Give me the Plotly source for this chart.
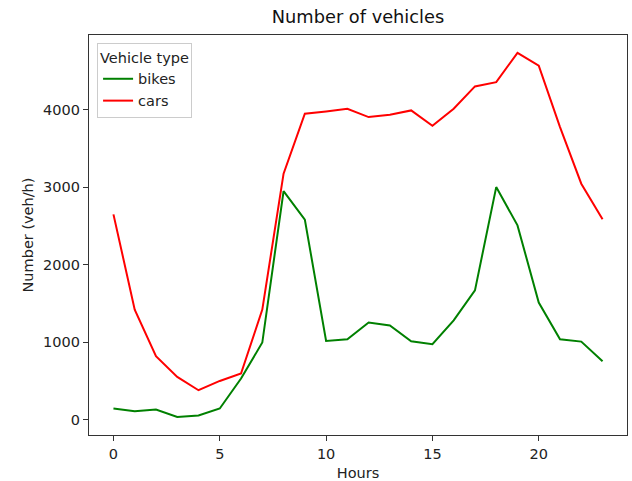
import plotly.graph_objects as go

hours = list(range(24))
bikes = [142, 107, 129, 34, 52, 142, 529, 994, 2950, 2581, 1014, 1036,
         1252, 1213, 1010, 972, 1281, 1668, 3001, 2507, 1510, 1036, 1006, 752]
cars = [2649, 1419, 817, 550, 378, 498, 594, 1419, 3174, 3948, 3978, 4013,
        3905, 3935, 3991, 3794, 4013, 4301, 4356, 4735, 4568, 3776, 3045, 2585]
y_ticks = [0, 1000, 2000, 3000, 4000]
x_ticks = [0, 5, 10, 15, 20]

font = "DejaVu Sans"
fs = 14.5
fig = go.Figure()
fig.add_trace(go.Scatter(x=hours, y=bikes, mode="lines", name="bikes",
                         line=dict(color="green", width=2)))
fig.add_trace(go.Scatter(x=hours, y=cars, mode="lines", name="cars",
                         line=dict(color="red", width=2)))

axis_common = dict(showline=True, linecolor="#333333", linewidth=1.2, mirror=True,
                   ticks="outside", ticklen=5, tickwidth=1.2, tickcolor="#333333", showgrid=False,
                   zeroline=False, automargin=False,
                   tickfont=dict(family=font, size=fs, color="#222"))
fig.update_layout(
    width=632, height=481,
    margin=dict(l=89, r=5, t=35, b=46),
    paper_bgcolor="white", plot_bgcolor="white",
    title=dict(text="Number of vehicles", x=(89 + 627) / 2 / 632, xanchor="center",
               y=1 - 17 / 481, yanchor="middle",
               font=dict(family=font, size=17.8, color="#111")),
    xaxis=dict(range=[-1.15, 24.15], tickvals=x_ticks,
               title=dict(text="Hours", font=dict(family=font, size=fs, color="#222"), standoff=7),
               **axis_common),
    yaxis=dict(range=[-200, 4965], tickvals=y_ticks,
               title=dict(text="Number (veh/h)", font=dict(family=font, size=fs, color="#222"), standoff=6),
               **axis_common),
    legend=dict(x=0.015, y=0.98, xanchor="left", yanchor="top",
                bgcolor="rgba(255,255,255,0.8)", bordercolor="#cccccc", borderwidth=1,
                title=dict(text="Vehicle type", font=dict(family=font, size=fs, color="#222")),
                font=dict(family=font, size=fs, color="#222"),
                tracegroupgap=0),
    showlegend=True,
)
fig.write_html("out.html", config={"displayModeBar": False},
               post_script="document.body.style.margin='0';document.body.style.overflow='hidden';")
